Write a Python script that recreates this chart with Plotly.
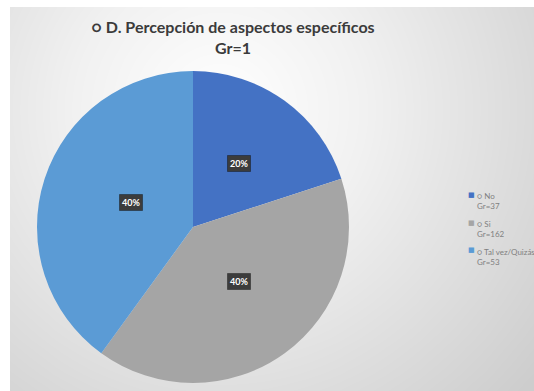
import math
import numpy as np
import plotly.graph_objects as go

# ---- data ----
categories = ["○ No", "○ Si", "○ Tal vez/Quizás"]
group_counts = [37, 162, 53]
percent_values = [20, 40, 40]
slice_colors = ["#4472C4", "#A5A5A5", "#5B9BD5"]
title_lines = ["○ D. Percepción de aspectos específicos", "Gr=1"]

W, H = 534, 391
cx, cy, R = 193, 227, 156  # pie center / radius in pixels (from top-left)

fig = go.Figure()

# ---- background radial gradient (style only) ----
gx = np.linspace(10, W, 60)
gy = np.linspace(7, H, 45)
X, Y = np.meshgrid(gx, gy)
D = np.sqrt(((X - 220) / 330) ** 2 + ((Y - 110) / 330) ** 2)
fig.add_trace(go.Heatmap(x=gx, y=gy, z=D, zsmooth="best", showscale=False,
                         colorscale=[[0, "#ffffff"], [0.35, "#f1f1f1"], [1, "#cdcdcd"]],
                         zmin=0, zmax=1.25, hoverinfo="skip"))
fig.update_xaxes(range=[10, W], visible=False, domain=[10 / W, 1], fixedrange=True)
fig.update_yaxes(range=[H, 7], visible=False, domain=[0, 1 - 7 / H], fixedrange=True)

# ---- pie ----
fig.add_trace(go.Pie(
    labels=categories, values=percent_values, sort=False, direction="clockwise",
    marker=dict(colors=slice_colors, line=dict(width=0)),
    textinfo="none", textposition="inside", hoverinfo="label+percent",
    domain=dict(x=[(cx - R) / W, (cx + R) / W], y=[(H - cy - R) / H, (H - cy + R) / H]),
    showlegend=False,
))

# ---- data labels at slice mid-angles ----
total = sum(percent_values)
acc = 0
for v in percent_values:
    mid = (acc + v / 2) / total * 2 * math.pi
    acc += v
    px = cx + 0.5 * R * math.sin(mid)
    py = cy - 0.5 * R * math.cos(mid)
    fig.add_annotation(x=px / W, y=1 - py / H, xref="paper", yref="paper",
                       text=f"<b>{round(v / total * 100)}%</b>", showarrow=False,
                       font=dict(family="Lato", size=9, color="white"),
                       bgcolor="#3c3c3c", bordercolor="rgba(0,0,0,0.35)", borderwidth=1,
                       borderpad=2)

# ---- legend (drawn as text so it matches the compact Excel-style legend) ----
fig.add_shape(type="rect", xref="paper", yref="paper",
              x0=465 / W, x1=1, y0=1 - 268 / H, y1=1 - 187 / H,
              fillcolor="rgba(236,236,236,0.9)", line=dict(width=0), layer="below")
for i, (c, g, col) in enumerate(zip(categories, group_counts, slice_colors)):
    ytop = 195 + 27.5 * i
    fig.add_annotation(x=471 / W, y=1 - ytop / H, xref="paper", yref="paper",
                       text="■", showarrow=False, xanchor="center", yanchor="middle",
                       font=dict(family="DejaVu Sans", size=7, color=col))
    fig.add_annotation(x=475 / W, y=1 - (ytop - 5.5) / H, xref="paper", yref="paper",
                       text=f"{c}<br>Gr={g}", showarrow=False, xanchor="left", yanchor="top",
                       align="left",
                       font=dict(family="Lato", size=8, color="#808080"))

fig.update_layout(
    width=W, height=H, margin=dict(l=0, r=0, t=0, b=0),
    paper_bgcolor="white", plot_bgcolor="white", showlegend=False,
    title=dict(text="<b>" + "<br>".join(title_lines) + "</b>", x=233 / W, xanchor="center",
               y=1 - 33 / H, yanchor="top",
               font=dict(family="Lato", size=16, color="#3b3b3b")),
)

fig.write_html("out.html")
